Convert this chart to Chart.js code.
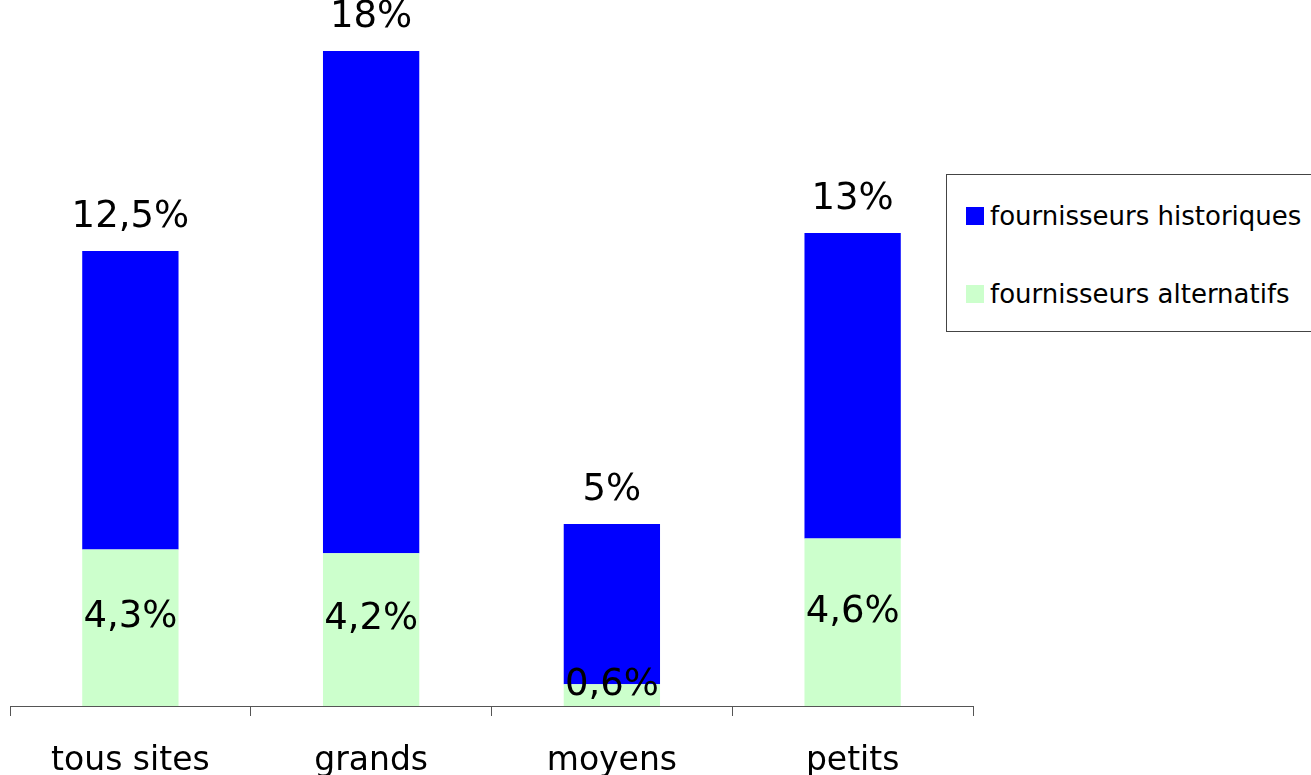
<!DOCTYPE html>
<html lang="fr">
<head>
<meta charset="utf-8">
<title>Fournisseurs</title>
<script src="https://cdn.jsdelivr.net/npm/chart.js@4.4.1/dist/chart.umd.min.js"></script>
<style>
    html, body { margin: 0; padding: 0; background: #ffffff; }
    #wrap { position: relative; width: 1311px; height: 775px; overflow: hidden; }
    #zone { position: absolute; left: 0; top: 0; width: 1311px; height: 807px; }
    #legende {
        position: absolute; left: 946px; top: 174px; width: 380px; height: 156px;
        border: 1px solid #444; background: #fff;
        font-family: "DejaVu Sans", Verdana, sans-serif; font-size: 26px; color: #000;
    }
    #legende .item { position: absolute; left: 19px; white-space: nowrap; line-height: 30px; }
    #legende .carre { display: inline-block; width: 18px; height: 18px; margin-right: 6px; vertical-align: 0px; }
</style>
</head>
<body>
<div id="wrap">
    <div id="zone"><canvas id="chartFournisseurs"></canvas></div>
    <div id="legende">
        <div class="item" style="top:26px"><span class="carre" style="background:#0000ff"></span>fournisseurs historiques</div>
        <div class="item" style="top:104px"><span class="carre" style="background:#ccffcc"></span>fournisseurs alternatifs</div>
    </div>
</div>
<script>
'use strict';

var CATEGORIES   = ['tous sites', 'grands', 'moyens', 'petits'];
var ALTERNATIFS  = [4.3, 4.2, 0.6, 4.6];   // part des fournisseurs alternatifs
var TOTAUX       = [12.5, 18, 5, 13];      // part totale (historiques + alternatifs)
var HISTORIQUES  = TOTAUX.map(function (t, i) { return Math.round((t - ALTERNATIFS[i]) * 10) / 10; });

var FONTE = '"DejaVu Sans", Verdana, sans-serif';

function pct(v) {
    return String(v).replace('.', ',') + '%';
}

/* Étiquettes : valeur dans le segment vert, total au-dessus de la barre */
var etiquettesPlugin = {
    id: 'etiquettes',
    afterDatasetsDraw: function (chart) {
        var ctx = chart.ctx;
        var alt = chart.getDatasetMeta(0).data;
        var hist = chart.getDatasetMeta(1).data;
        ctx.save();
        ctx.font = '37px ' + FONTE;
        ctx.fillStyle = '#000000';
        ctx.textAlign = 'center';
        ctx.textBaseline = 'middle';
        alt.forEach(function (bar, i) {
            var cy = (bar.y + bar.base) / 2 - 10;
            ctx.fillText(pct(ALTERNATIFS[i]), bar.x, cy);
        });
        hist.forEach(function (bar, i) {
            ctx.fillText(pct(TOTAUX[i]), bar.x, bar.y - 34);
        });
        ctx.restore();
    }
};

new Chart(document.getElementById('chartFournisseurs'), {
    type: 'bar',
    data: {
        labels: CATEGORIES,
        datasets: [{
            label: 'fournisseurs alternatifs',
            data: ALTERNATIFS,
            backgroundColor: '#ccffcc',
            borderWidth: 0
        }, {
            label: 'fournisseurs historiques',
            data: HISTORIQUES,
            backgroundColor: '#0000ff',
            borderWidth: 0
        }]
    },
    options: {
        responsive: true,
        maintainAspectRatio: false,
        animation: false,
        layout: { padding: { left: 10, right: 338, top: 0, bottom: 0 } },
        datasets: { bar: { barPercentage: 0.4, categoryPercentage: 1 } },
        scales: {
            x: {
                stacked: true,
                grid: {
                    offset: true,
                    drawOnChartArea: false,
                    drawTicks: true,
                    tickLength: 10,
                    color: '#555555'
                },
                border: { display: true, color: '#555555', width: 1 },
                ticks: {
                    color: '#000000',
                    padding: 29,
                    font: { family: FONTE, size: 33, lineHeight: 1 }
                }
            },
            y: {
                stacked: true,
                display: false,
                min: 0,
                max: 19.4
            }
        },
        plugins: {
            legend: { display: false },
            tooltip: { enabled: false }
        }
    },
    plugins: [etiquettesPlugin]
});
</script>
</body>
</html>
